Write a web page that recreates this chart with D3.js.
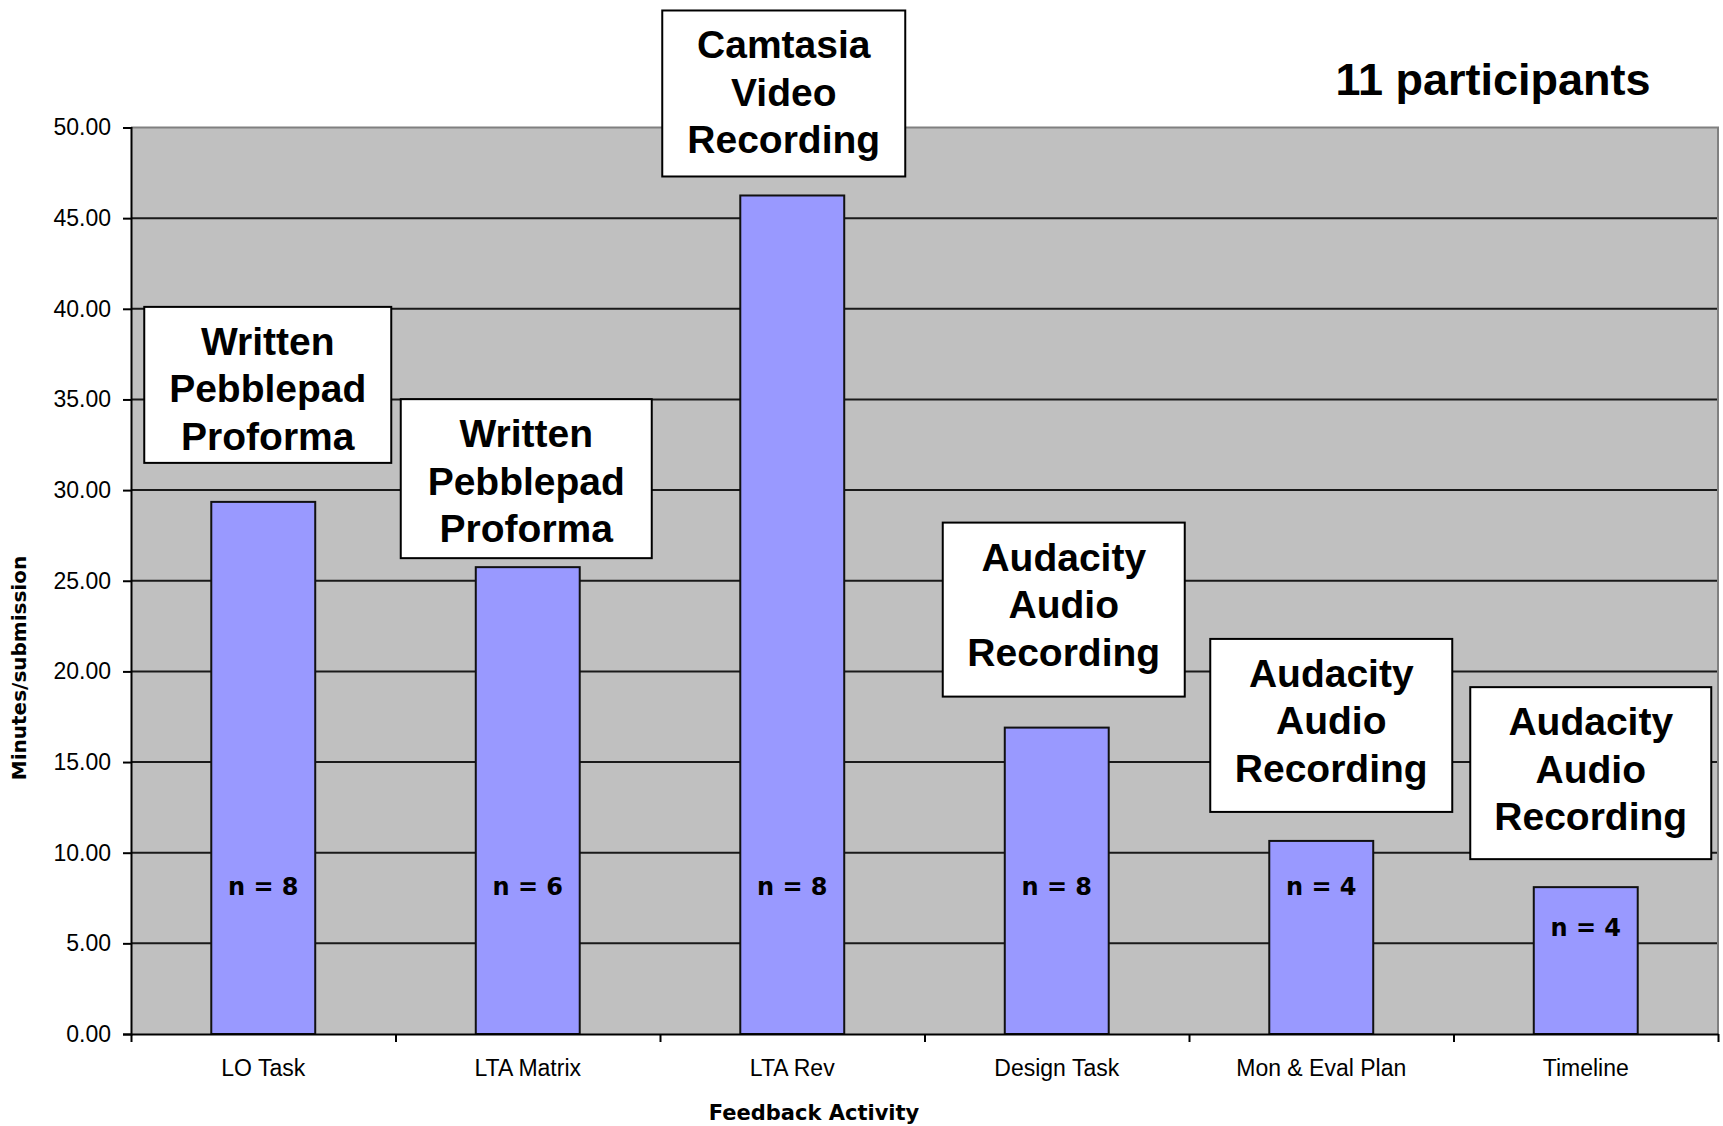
<!DOCTYPE html>
<html>
<head>
<meta charset="utf-8">
<script src="https://cdn.jsdelivr.net/npm/d3@7"></script>
<style>
  html, body { margin: 0; padding: 0; background: #ffffff; }
  svg { display: block; }
</style>
</head>
<body>
<svg id="chart" width="1723" height="1126"></svg>
<script>
// ---- data ----
const categories = ["LO Task", "LTA Matrix", "LTA Rev", "Design Task", "Mon & Eval Plan", "Timeline"];
const minutesPerSubmission = [29.35, 25.75, 46.25, 16.9, 10.65, 8.1];
const nLabels = ["n = 8", "n = 6", "n = 8", "n = 8", "n = 4", "n = 4"];
const toolLabels = [
  ["Written", "Pebblepad", "Proforma"],
  ["Written", "Pebblepad", "Proforma"],
  ["Camtasia", "Video", "Recording"],
  ["Audacity", "Audio", "Recording"],
  ["Audacity", "Audio", "Recording"],
  ["Audacity", "Audio", "Recording"]
];
const yTicks = [0, 5, 10, 15, 20, 25, 30, 35, 40, 45, 50];
const titleText = "11 participants";
const xTitle = "Feedback Activity";
const yTitle = "Minutes/submission";

// ---- layout (positions/sizes, not data) ----
const W = 1723, H = 1126;
const margin = { left: 131, top: 127.5, right: 5, bottom: 92 };
const plotW = W - margin.left - margin.right;
const plotH = H - margin.top - margin.bottom;
// annotation boxes: offset from band centre, width, height, gap above bar top
const boxLayout = [
  { dx: 4.5, w: 247, h: 156, gap: 39 },
  { dx: -1.5, w: 251, h: 159, gap: 9 },
  { dx: -8.5, w: 243, h: 166, gap: 19 },
  { dx: 7, w: 242, h: 174, gap: 31 },
  { dx: 10, w: 242, h: 173, gap: 29 },
  { dx: 5, w: 241, h: 172, gap: 28 }
];
const nLabelBaselineOffset = [-139, -139, -139, -139, -139, -98]; // relative to zero line

const svg = d3.select("#chart");
const g = svg.append("g").attr("transform", `translate(${margin.left},${margin.top})`);

const x = d3.scaleBand().domain(categories).range([0, plotW]).padding(0);
const xIdx = d3.scaleLinear().domain([0, categories.length]).range([0, plotW]);
const y = d3.scaleLinear().domain([0, 50]).range([plotH, 0]);

const barFrac = 0.393;

// plot background
g.append("rect")
  .attr("x", 0).attr("y", 0).attr("width", plotW).attr("height", plotH)
  .attr("fill", "#c0c0c0");

// gridlines
g.append("g").selectAll("line")
  .data(yTicks.filter(t => t > 0 && t < 50))
  .join("line")
  .attr("x1", 0).attr("x2", plotW)
  .attr("y1", d => y(d)).attr("y2", d => y(d))
  .attr("stroke", "#1a1a1a").attr("stroke-width", 2);

// plot border (top/right grey)
g.append("path")
  .attr("d", `M0,${y(50)}H${plotW}V${plotH}`)
  .attr("fill", "none").attr("stroke", "#808080").attr("stroke-width", 2);

// bars
g.append("g").selectAll("rect")
  .data(categories)
  .join("rect")
  .attr("x", (d) => x(d) + x.bandwidth() * (1 - barFrac) / 2)
  .attr("width", x.bandwidth() * barFrac)
  .attr("y", (d, i) => y(minutesPerSubmission[i]))
  .attr("height", (d, i) => y(0) - y(minutesPerSubmission[i]))
  .attr("fill", "#9999ff")
  .attr("stroke", "#111").attr("stroke-width", 2);

// n labels
g.append("g").selectAll("text")
  .data(categories)
  .join("text")
  .attr("x", d => x(d) + x.bandwidth() / 2)
  .attr("y", (d, i) => y(0) + nLabelBaselineOffset[i])
  .attr("text-anchor", "middle")
  .attr("font-family", "DejaVu Sans, sans-serif")
  .attr("font-weight", "bold")
  .attr("font-size", 24)
  .attr("fill", "#000")
  .text((d, i) => nLabels[i]);

// y axis
const yAxis = g.append("g")
  .call(d3.axisLeft(y).tickValues(yTicks).tickFormat(d3.format(".2f")).tickSize(8).tickPadding(12));
yAxis.select(".domain").attr("stroke", "#000").attr("stroke-width", 2);
yAxis.selectAll(".tick line").attr("stroke", "#000").attr("stroke-width", 2);
yAxis.selectAll(".tick text")
  .attr("font-family", "Liberation Sans, Arial, sans-serif")
  .attr("font-size", 23).attr("fill", "#000");

// x axis: boundary ticks
const xTickAxis = g.append("g").attr("transform", `translate(0,${plotH})`)
  .call(d3.axisBottom(xIdx).tickValues(d3.range(categories.length + 1)).tickFormat("").tickSize(8).tickSizeOuter(0));
xTickAxis.select(".domain").attr("stroke", "#000").attr("stroke-width", 2);
xTickAxis.selectAll(".tick line").attr("stroke", "#000").attr("stroke-width", 2);

// x axis: category labels
const xLabelAxis = g.append("g").attr("transform", `translate(0,${plotH})`)
  .call(d3.axisBottom(x).tickSize(0).tickPadding(26));
xLabelAxis.select(".domain").remove();
xLabelAxis.selectAll(".tick text")
  .attr("font-family", "Liberation Sans, Arial, sans-serif")
  .attr("font-size", 23).attr("fill", "#000");

// annotation boxes
const boxes = g.append("g").selectAll("g")
  .data(categories)
  .join("g")
  .attr("transform", (d, i) => {
    const L = boxLayout[i];
    const cx = x(d) + x.bandwidth() / 2 + L.dx;
    const bottom = y(minutesPerSubmission[i]) - L.gap;
    return `translate(${cx - L.w / 2},${bottom - L.h})`;
  });
boxes.append("rect")
  .attr("width", (d, i) => boxLayout[i].w)
  .attr("height", (d, i) => boxLayout[i].h)
  .attr("fill", "#fff").attr("stroke", "#000").attr("stroke-width", 2);
boxes.each(function (d, i) {
  const L = boxLayout[i];
  const t = d3.select(this).append("text")
    .attr("text-anchor", "middle")
    .attr("font-family", "Liberation Sans, Arial, sans-serif")
    .attr("font-weight", "bold")
    .attr("font-size", 39)
    .attr("fill", "#000");
  toolLabels[i].forEach((line, k) => {
    t.append("tspan").attr("x", L.w / 2).attr("y", 48 + k * 47.5).text(line);
  });
});

// title
svg.append("text")
  .attr("x", 1493).attr("y", 95)
  .attr("text-anchor", "middle")
  .attr("font-family", "Liberation Sans, Arial, sans-serif")
  .attr("font-weight", "bold").attr("font-size", 45)
  .attr("fill", "#000")
  .text(titleText);

// x axis title
svg.append("text")
  .attr("x", 814).attr("y", 1120)
  .attr("text-anchor", "middle")
  .attr("font-family", "DejaVu Sans, sans-serif")
  .attr("font-weight", "bold").attr("font-size", 21)
  .attr("fill", "#000")
  .text(xTitle);

// y axis title
svg.append("text")
  .attr("transform", "translate(26,668) rotate(-90)")
  .attr("text-anchor", "middle")
  .attr("font-family", "DejaVu Sans, sans-serif")
  .attr("font-weight", "bold").attr("font-size", 20)
  .attr("fill", "#000")
  .text(yTitle);
</script>
</body>
</html>
